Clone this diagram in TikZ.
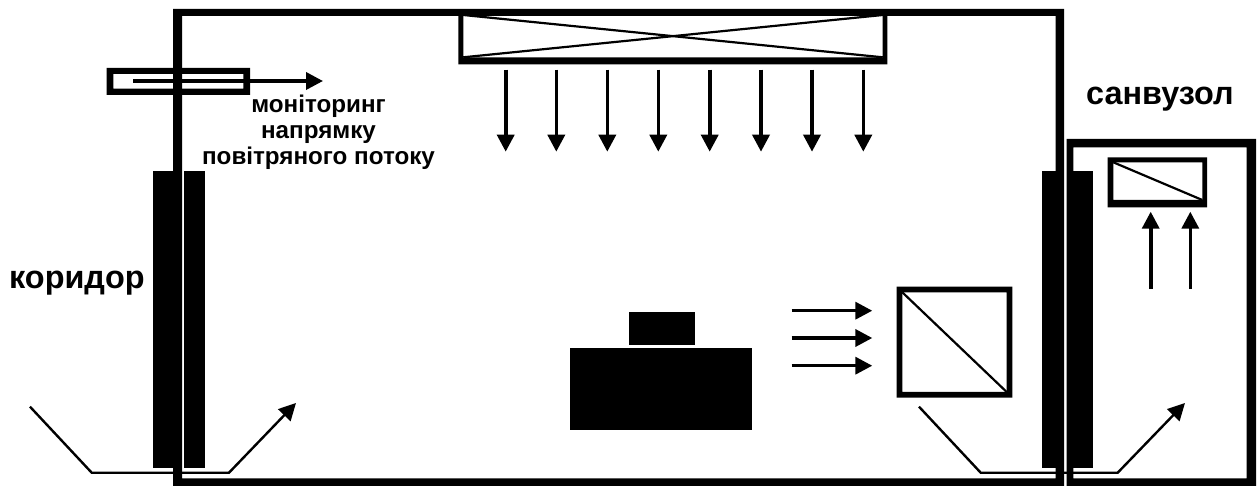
\documentclass[tikz,border=0pt]{standalone}
\usepackage{fontspec}
\setmainfont{Liberation Sans}
\usetikzlibrary{arrows.meta}
\tikzset{
  x=1pt,y=-1pt,
  solid part/.style={fill=black,draw=none},
  flow/.style={line width=3.6pt,-{Triangle[length=17pt,width=17pt]}},
  thinflow/.style={line width=2.4pt,line join=miter,-{Triangle[length=17pt,width=17pt]}},
  hairline/.style={line width=2.2pt},
  biglabel/.style={font=\bfseries\fontsize{32.4}{36}\selectfont,inner sep=0pt,anchor=base west},
  smalllabel/.style={font=\bfseries\fontsize{24.2}{26}\selectfont,inner sep=0pt,align=center,anchor=center},
}
\begin{document}
\begin{tikzpicture}
\useasboundingbox (0,0) rectangle (1259,486);
\fill[white] (0,0) rectangle (1259,486);
% monitor tube
\fill[solid part,even odd rule] (106.7,68) rectangle (250,95) (113.3,74) rectangle (243.3,88.7);
% main room
\fill[solid part,even odd rule] (173,9) rectangle (1064,486) (182,16) rectangle (1055.7,478.3);
% sanitary room
\fill[solid part,even odd rule] (1066.7,139) rectangle (1256,486) (1073.3,147.3) rectangle (1246.7,478.3);
% doors
\fill[solid part] (153,171) rectangle (173,467.7);
\fill[solid part] (184,171) rectangle (205,467.7);
\fill[solid part] (1042.3,171) rectangle (1055.7,467.7);
\fill[solid part] (1066.7,171) rectangle (1092.7,467.7);
% supply unit
\fill[solid part,even odd rule] (458.3,10) rectangle (887.3,64.3) (463.3,16) rectangle (882.7,57.3);
\draw[hairline] (463.3,15) -- (882.7,57.3) (882.7,15) -- (463.3,57.3);
% supply arrows
\foreach \px in {505.7,556.3,607.3,658.3,709.7,761,812,863.3}
  \draw[flow] (\px,69.7) -- (\px,151.7);
% desk
\fill[solid part] (570,348.3) rectangle (752.3,430);
\fill[solid part] (629.3,312.3) rectangle (694.7,345);
% arrows to the extract unit
\foreach \py in {310.7,338,365.7}
  \draw[flow] (791.7,\py) -- (872.3,\py);
% extract unit
\fill[solid part,even odd rule] (896.7,286.7) rectangle (1012.3,397.7) (902.3,292.3) rectangle (1006.7,392);
\draw[hairline] (902.3,292.3) -- (1006.7,392);
% sanitary extract
\fill[solid part,even odd rule] (1107.7,157.3) rectangle (1207,207.3) (1113.3,162.3) rectangle (1202.3,200);
\draw[hairline] (1113.3,162.3) -- (1202.3,200);
\draw[flow] (1150.7,289) -- (1150.7,211.7);
\draw[flow] (1190.3,289) -- (1190.3,211.7);
% monitor arrow
\draw[flow] (133,81) -- (323,81);
% door flows
\draw[thinflow] (30,406.7) -- (91.7,472.7) -- (229,472.7) -- (296,403);
\draw[thinflow] (919,406.7) -- (980.7,472.7) -- (1117.7,472.7) -- (1185,403);
% labels
\node[biglabel] (corridor) at (9,289) {коридор};
\node[biglabel] (wc) at (1086,105) {санвузол};
\node[smalllabel] (monitoring) at (318.5,132) {моніторинг\\напрямку\\повітряного потоку};
\end{tikzpicture}
\end{document}
